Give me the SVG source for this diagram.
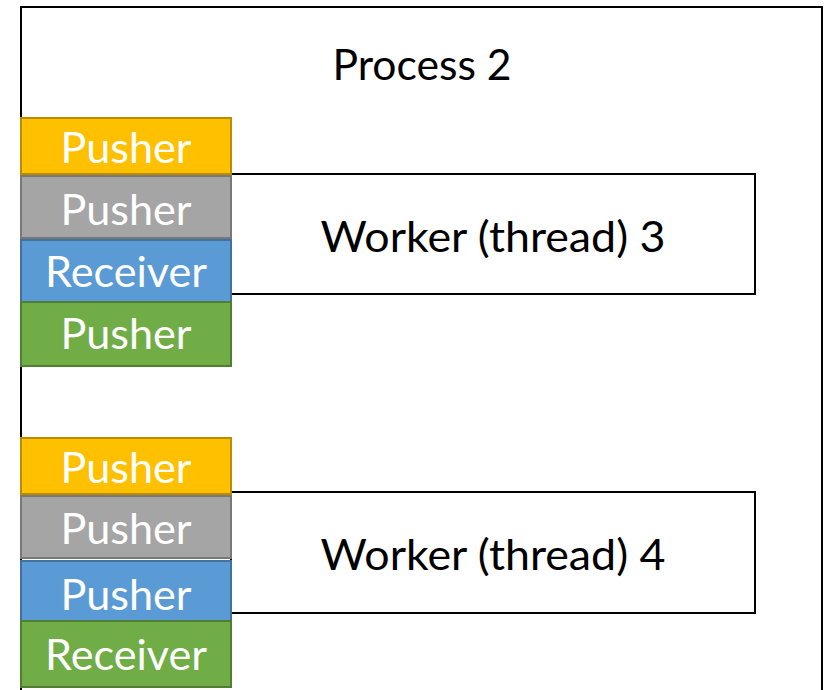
<svg xmlns="http://www.w3.org/2000/svg" width="826" height="690" viewBox="0 0 826 690">
<style>
text{font-family:Lato,"Open Sans","Liberation Sans",sans-serif;font-size:42px;text-anchor:middle}
.w{fill:#fff;stroke:#000;stroke-width:2}
.lbl{fill:#fff}
.dk{fill:#000}
.y{fill:#FFC000;stroke:#BC8C00;stroke-width:2}
.g{fill:#A5A5A5;stroke:#787878;stroke-width:2}
.b{fill:#5B9BD5;stroke:#41719C;stroke-width:2}
.n{fill:#70AD47;stroke:#507E32;stroke-width:2}
</style>
<g id="process2">
<rect class="w" x="21" y="7" width="801" height="700"/>
<text class="dk" x="422" y="80" textLength="179" lengthAdjust="spacingAndGlyphs">Process 2</text>
</g>
<g id="worker3">
<rect class="w" x="231" y="174" width="524" height="120"/>
<text class="dk" x="493" y="252" textLength="345" lengthAdjust="spacingAndGlyphs">Worker (thread) 3</text>
</g>
<g id="worker4">
<rect class="w" x="231" y="492" width="524" height="121"/>
<text class="dk" x="493" y="570" textLength="345" lengthAdjust="spacingAndGlyphs">Worker (thread) 4</text>
</g>
<g id="w3-pusher-yellow"><rect class="y" x="21" y="118" width="210" height="56"/><text class="lbl" x="126" y="163" textLength="131" lengthAdjust="spacingAndGlyphs">Pusher</text></g>
<g id="w3-pusher-gray"><rect class="g" x="21" y="176" width="210" height="62"/><text class="lbl" x="126" y="225" textLength="131" lengthAdjust="spacingAndGlyphs">Pusher</text></g>
<g id="w3-receiver-blue"><rect class="b" x="21" y="240" width="210" height="62"/><text class="lbl" x="126" y="287" textLength="162" lengthAdjust="spacingAndGlyphs">Receiver</text></g>
<g id="w3-pusher-green"><rect class="n" x="21" y="302" width="210" height="64"/><text class="lbl" x="126" y="349" textLength="131" lengthAdjust="spacingAndGlyphs">Pusher</text></g>
<g id="w4-pusher-yellow"><rect class="y" x="21" y="438" width="210" height="56"/><text class="lbl" x="126" y="483" textLength="131" lengthAdjust="spacingAndGlyphs">Pusher</text></g>
<g id="w4-pusher-gray"><rect class="g" x="21" y="496" width="210" height="62"/><text class="lbl" x="126" y="544" textLength="131" lengthAdjust="spacingAndGlyphs">Pusher</text></g>
<g id="w4-pusher-blue"><rect class="b" x="21" y="561" width="210" height="62"/><text class="lbl" x="126" y="610" textLength="131" lengthAdjust="spacingAndGlyphs">Pusher</text></g>
<g id="w4-receiver-green"><rect class="n" x="21" y="621" width="210" height="66"/><text class="lbl" x="126" y="670" textLength="162" lengthAdjust="spacingAndGlyphs">Receiver</text></g>
<g id="connectors"/>
</svg>
